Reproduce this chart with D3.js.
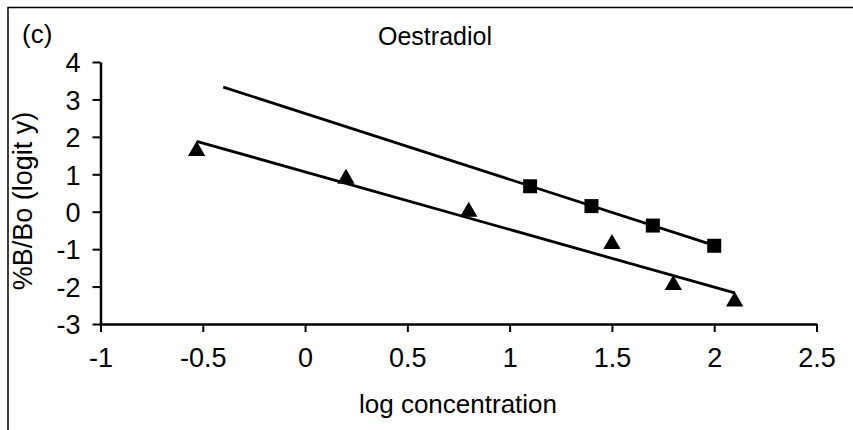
<!DOCTYPE html>
<html>
<head>
<meta charset="utf-8">
<script src="https://cdn.jsdelivr.net/npm/d3@7"></script>
<style>
  html, body { margin: 0; padding: 0; background: #fff; }
  svg { display: block; }
  text { font-family: "Liberation Sans", Arial, Helvetica, sans-serif; fill: #000; }
</style>
</head>
<body>
<svg id="chart" width="853" height="430"></svg>
<script>
// ---- data ----
const xTicks = [-1, -0.5, 0, 0.5, 1, 1.5, 2, 2.5];
const yTicks = [-3, -2, -1, 0, 1, 2, 3, 4];
const squaresX = [1.1, 1.4, 1.7, 2.0];
const squaresY = [0.68, 0.15, -0.37, -0.91];
const trianglesX = [-0.53, 0.2, 0.8, 1.5, 1.8, 2.1];
const trianglesY = [1.62, 0.88, 0.0, -0.86, -1.96, -2.4];
const fitSquaresX = [-0.4, 2.0];
const fitSquaresY = [3.33, -0.9];
const fitTrianglesX = [-0.53, 2.1];
const fitTrianglesY = [1.88, -2.17];
const title = "Oestradiol";
const panelLabel = "(c)";
const xTitle = "log concentration";
const yTitle = "%B/Bo (logit y)";

// ---- drawing ----
const svg = d3.select("#chart");
const x = d3.scaleLinear().domain([-1, 2.5]).range([100.5, 816.5]);
const y = d3.scaleLinear().domain([-3, 4]).range([324, 62]);

// frame (left and top)
svg.append("path").attr("d", "M8,430 L8,7.5 L853,7.5")
  .attr("fill", "none").attr("stroke", "#000").attr("stroke-width", 1.5);

const fs = 27;

// x axis
const xAxis = svg.append("g").attr("transform", `translate(0,${y(-3)})`)
  .call(d3.axisBottom(x).tickValues(xTicks).tickSize(8).tickPadding(16)
        .tickFormat(d => String(d)).tickSizeOuter(0));
xAxis.select(".domain").attr("stroke-width", 2.5);
xAxis.selectAll(".tick line").attr("stroke-width", 2);
xAxis.selectAll("text").style("font-size", fs + "px").attr("fill", "#000");

// y axis
const yAxis = svg.append("g").attr("transform", `translate(${x(-1)},0)`)
  .call(d3.axisLeft(y).tickValues(yTicks).tickSize(8).tickPadding(12)
        .tickFormat(d => String(d)).tickSizeOuter(0));
yAxis.select(".domain").attr("stroke-width", 2.5);
yAxis.selectAll(".tick line").attr("stroke-width", 2);
yAxis.selectAll("text").style("font-size", fs + "px").attr("fill", "#000").attr("dy", "0.36em");

// fit lines
const line = d3.line().x(d => x(d[0])).y(d => y(d[1]));
svg.append("path").datum(d3.zip(fitSquaresX, fitSquaresY)).attr("d", line)
  .attr("fill", "none").attr("stroke", "#000").attr("stroke-width", 2.8);
svg.append("path").datum(d3.zip(fitTrianglesX, fitTrianglesY)).attr("d", line)
  .attr("fill", "none").attr("stroke", "#000").attr("stroke-width", 2.8);

// markers
const sq = d3.symbol().type(d3.symbolSquare).size(14 * 14);
svg.append("g").selectAll("path").data(d3.zip(squaresX, squaresY)).join("path")
  .attr("d", sq).attr("transform", d => `translate(${x(d[0])},${y(d[1])})`).attr("fill", "#000");
const tri = d3.symbol().type(d3.symbolTriangle).size(130);
svg.append("g").selectAll("path").data(d3.zip(trianglesX, trianglesY)).join("path")
  .attr("d", tri).attr("transform", d => `translate(${x(d[0])},${y(d[1])})`).attr("fill", "#000");

// texts
svg.append("text").attr("x", 22).attr("y", 43).style("font-size", "26px").text(panelLabel);
svg.append("text").attr("x", 435).attr("y", 45).attr("text-anchor", "middle")
  .style("font-size", "25px").text(title);
svg.append("text").attr("x", 458).attr("y", 413).attr("text-anchor", "middle")
  .style("font-size", "26px").text(xTitle);
svg.append("text").attr("transform", "translate(32,201) rotate(-90)").attr("text-anchor", "middle")
  .style("font-size", "27px").text(yTitle);
</script>
</body>
</html>
